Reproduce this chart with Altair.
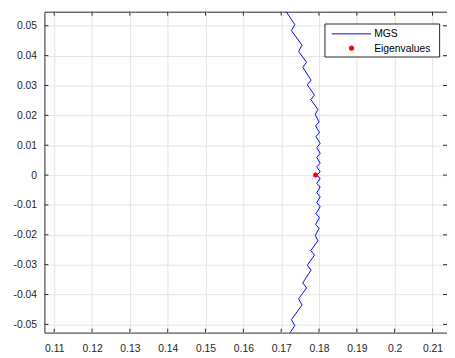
import altair as alt
import pandas as pd

# MGS curve (top to bottom)
mgs_x = [0.1706,
         0.1736, 0.1727, 0.1755, 0.1746, 0.1767, 0.1757, 0.1779, 0.1769, 0.1788, 0.1778,
         0.1797, 0.1790, 0.1800, 0.1791, 0.1801, 0.1792, 0.1803, 0.1794, 0.1803, 0.1794,
         0.1803, 0.1794, 0.1803,
         0.1794,
         0.1803, 0.1794, 0.1803, 0.1794, 0.1803, 0.1794, 0.1803, 0.1792, 0.1801, 0.1791,
         0.1800, 0.1790, 0.1797, 0.1778, 0.1788, 0.1769, 0.1779, 0.1757, 0.1767, 0.1746,
         0.1755, 0.1727, 0.1736,
         0.1706]
mgs_y = [0.0561,
         0.0504, 0.0484, 0.0435, 0.0414, 0.0378, 0.0361, 0.0318, 0.0302, 0.0268, 0.0253,
         0.0220, 0.0203, 0.0178, 0.0165, 0.0142, 0.0129, 0.0106, 0.0092, 0.0073, 0.0059,
         0.0040, 0.0028, 0.0011,
         0.0,
         -0.0011, -0.0028, -0.0040, -0.0059, -0.0073, -0.0092, -0.0106, -0.0129, -0.0142, -0.0165,
         -0.0178, -0.0203, -0.0220, -0.0253, -0.0268, -0.0302, -0.0318, -0.0361, -0.0378, -0.0414,
         -0.0435, -0.0484, -0.0504,
         -0.0561]

eig_x = [0.1791]
eig_y = [0.0]

x_ticks = [0.11, 0.12, 0.13, 0.14, 0.15, 0.16, 0.17, 0.18, 0.19, 0.20, 0.21]
y_ticks = [-0.05, -0.04, -0.03, -0.02, -0.01, 0.0, 0.01, 0.02, 0.03, 0.04, 0.05]

x_domain = [0.1074, 0.21383]
y_domain = [-0.05274, 0.05471]

W, H = 409, 326
AX = "#262626"

mgs = pd.DataFrame({"x": mgs_x, "y": mgs_y, "i": list(range(len(mgs_x)))})
eig = pd.DataFrame({"x": eig_x, "y": eig_y})
xt = pd.DataFrame({"x": x_ticks})
yt = pd.DataFrame({"y": y_ticks})

lab = "replace(format(datum.value, '.2~f'), '\u2212', '-')"

xs = alt.Scale(domain=x_domain, nice=False, zero=False)
ys = alt.Scale(domain=y_domain, nice=False, zero=False)

xaxis = alt.Axis(values=x_ticks, labelExpr=lab, grid=True, ticks=False, domain=False,
                 labelPadding=11, title=None, labelOverlap=False, labelBound=False,
                 labelFlush=False)
yaxis = alt.Axis(values=y_ticks, labelExpr=lab, grid=True, ticks=False, domain=False,
                 labelPadding=8, title=None, labelOverlap=False, labelBound=False,
                 labelFlush=False)

X = alt.X("x:Q", scale=xs, axis=xaxis, title=None)
Y = alt.Y("y:Q", scale=ys, axis=yaxis, title=None)

line = alt.Chart(mgs).mark_line(color="#0000ff", strokeWidth=1, clip=True).encode(
    x=X, y=Y, order="i:Q",
)

pts = alt.Chart(eig).mark_circle(color="#ff0000", size=26, opacity=1).encode(x=X, y=Y)

tk = 4
xb = alt.Chart(xt).mark_rule(color=AX, strokeWidth=1).encode(
    x=X, y=alt.value(H), y2=alt.value(H - tk))
xtop = alt.Chart(xt).mark_rule(color=AX, strokeWidth=1).encode(
    x=X, y=alt.value(0), y2=alt.value(tk))
yl = alt.Chart(yt).mark_rule(color=AX, strokeWidth=1).encode(
    y=Y, x=alt.value(0), x2=alt.value(tk))
yr = alt.Chart(yt).mark_rule(color=AX, strokeWidth=1).encode(
    y=Y, x=alt.value(W), x2=alt.value(W - tk))

# legend
leg_names = ["MGS", "Eigenvalues"]
one = pd.DataFrame({"k": [0]})
box = alt.Chart(one).mark_rect(fill="white", stroke=AX, strokeWidth=1).encode(
    x=alt.value(285), x2=alt.value(401.5), y=alt.value(12.5), y2=alt.value(46))
lline = alt.Chart(one).mark_rule(color="#0000ff", strokeWidth=1).encode(
    x=alt.value(292), x2=alt.value(332), y=alt.value(22.5))
ldot = alt.Chart(one).mark_circle(color="#ff0000", size=26, opacity=1).encode(
    x=alt.value(312), y=alt.value(37))
lt1 = alt.Chart(one).mark_text(align="left", baseline="middle", fontSize=10.5,
                               font="Liberation Sans", color="black", text=leg_names[0]).encode(
    x=alt.value(335), y=alt.value(23))
lt2 = alt.Chart(one).mark_text(align="left", baseline="middle", fontSize=10.5,
                               font="Liberation Sans", color="black", text=leg_names[1]).encode(
    x=alt.value(335), y=alt.value(37.5))

chart = alt.layer(line, pts, xb, xtop, yl, yr, box, lline, ldot, lt1, lt2).properties(
    width=W, height=H,
    autosize=alt.AutoSizeParams(type="none"),
    padding={"left": 37, "top": 1, "right": 0, "bottom": 20},
).configure_view(stroke=AX, strokeWidth=1).configure_axis(
    gridColor="#e3e3e3", gridWidth=1, gridOpacity=1,
    labelFont="Liberation Sans", labelFontSize=10.5, labelColor=AX,
)

chart.save("out.html", embed_options={"renderer": "svg", "actions": False})
